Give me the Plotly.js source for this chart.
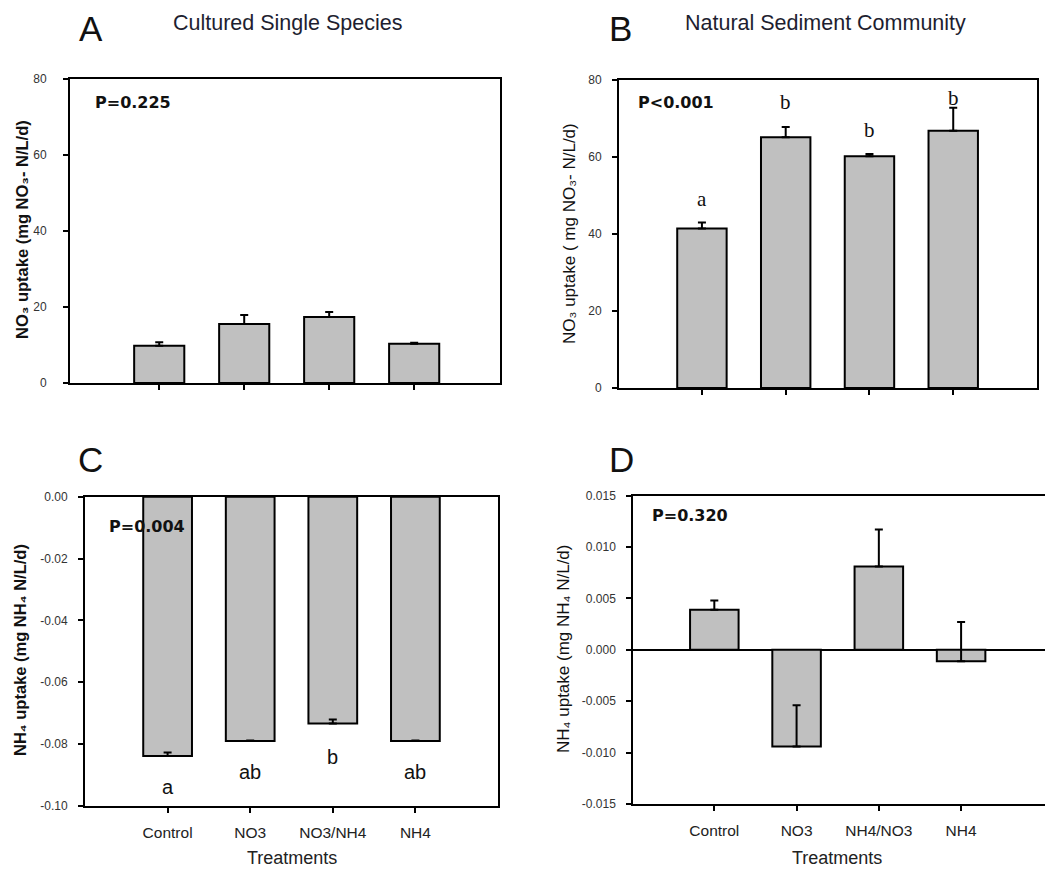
<!DOCTYPE html>
<html>
<head>
<meta charset="utf-8">
<script src="https://cdn.plot.ly/plotly-3.0.1.min.js"></script>
<style>html,body{margin:0;padding:0;background:#fff;}#chart{width:1045px;height:872px;}</style>
</head>
<body>
<div id="chart"></div>
<script>
// ---- data ----
const treatmentsC = ['Control', 'NO3', 'NO3/NH4', 'NH4'];
const treatmentsD = ['Control', 'NO3', 'NH4/NO3', 'NH4'];

// A: Cultured single species, NO3 uptake
const valuesA = [9.8, 15.5, 17.4, 10.3];
const errorsA = [0.9, 2.4, 1.3, 0.3];
// B: Natural sediment community, NO3 uptake
const valuesB = [41.4, 65.1, 60.2, 66.8];
const errorsB = [1.6, 2.7, 0.6, 6.0];
const lettersB = ['a', 'b', 'b', 'b'];
const letterYB = [49.0, 74.4, 67.0, 75.3];
// C: Cultured single species, NH4 uptake
const valuesC = [-0.0838, -0.0790, -0.0733, -0.0790];
const errorsC = [0.0011, 0.0002, 0.0013, 0.0002];
const lettersC = ['a', 'ab', 'b', 'ab'];
const letterYC = [-0.0940, -0.0889, -0.0843, -0.0889];
// D: Natural sediment community, NH4 uptake
const valuesD = [0.0039, -0.0094, 0.0081, -0.0011];
const errorsD = [0.0009, 0.0040, 0.0036, 0.0038];

const tickValsA = [0, 20, 40, 60, 80];
const tickTextA = ['0', '20', '40', '60', '80'];
const tickValsC = [0, -0.02, -0.04, -0.06, -0.08, -0.10];
const tickTextC = ['0.00', '-0.02', '-0.04', '-0.06', '-0.08', '-0.10'];
const tickValsD = [0.015, 0.010, 0.005, 0, -0.005, -0.010, -0.015];
const tickTextD = ['0.015', '0.010', '0.005', '0.000', '-0.005', '-0.010', '-0.015'];

const pValues = ['P=0.225', 'P<0.001', 'P=0.004', 'P=0.320'];
const panelLetters = ['A', 'B', 'C', 'D'];
const panelTitles = ['Cultured Single Species', 'Natural Sediment Community'];
const yTitles = ['NO\u2083 uptake (mg NO\u2083- N/L/d)', 'NO\u2083 uptake ( mg NO\u2083- N/L/d)',
                 'NH\u2084 uptake (mg NH\u2084 N/L/d)', 'NH\u2084 uptake (mg NH\u2084 N/L/d)'];
const xTitle = 'Treatments';

// ---- drawing ----
const W = 1045, H = 872;
const px = x => x / W;
const py = y => 1 - y / H;
const idx = treatmentsC.map((_, i) => i);

function barTrace(vals, errs, xa, ya) {
  return {
    type: 'bar', x: idx, y: vals, xaxis: xa, yaxis: ya, width: 0.59,
    marker: {color: '#c0c0c0', line: {color: '#000', width: 2}},
    error_y: {type: 'data', symmetric: false, array: errs, arrayminus: errs.map(() => 0),
              color: '#000', thickness: 2, width: 4},
    showlegend: false, hoverinfo: 'y'
  };
}

const data = [
  barTrace(valuesA, errorsA, 'x', 'y'),
  barTrace(valuesB, errorsB, 'x2', 'y2'),
  barTrace(valuesC, errorsC, 'x3', 'y3'),
  barTrace(valuesD, errorsD, 'x4', 'y4')
];

const tickFont = {family: 'Liberation Sans, Arial, sans-serif', size: 12, color: '#333'};
function xAxis(domain, range, anchor, labels) {
  const ax = {
    domain: domain, range: range, anchor: anchor, showgrid: false, zeroline: false,
    showline: true, linecolor: '#000', linewidth: 2, mirror: true,
    ticks: 'outside', ticklen: 5, tickwidth: 2, tickcolor: '#000',
    tickmode: 'array', tickvals: idx, showticklabels: !!labels,
    tickfont: {family: 'Liberation Sans, Arial, sans-serif', size: 15.5, color: '#222'},
    ticklabelstandoff: 6
  };
  if (labels) ax.ticktext = labels;
  return ax;
}
function yAxis(domain, range, anchor, tv, tt, standoff, zl) {
  return {
    domain: domain, range: range, anchor: anchor, showgrid: false, zeroline: !!zl,
    zerolinecolor: '#000', zerolinewidth: 2,
    showline: true, linecolor: '#000', linewidth: 2, mirror: true,
    ticks: 'outside', ticklen: 5, tickwidth: 2, tickcolor: '#000',
    tickmode: 'array', tickvals: tv, ticktext: tt, tickfont: tickFont, ticklabelstandoff: standoff
  };
}

const layout = {
  width: W, height: H, margin: {l: 0, r: 0, t: 0, b: 0},
  paper_bgcolor: '#fff', plot_bgcolor: '#fff', bargap: 0,
  font: {family: 'Liberation Sans, Arial, sans-serif', color: '#222'},
  xaxis:  xAxis([px(70), px(500)], [-1.05, 4.01], 'y'),
  yaxis:  yAxis([py(383), py(79)], [0, 80], 'x', tickValsA, tickTextA, 14),
  xaxis2: xAxis([px(619), px(1037)], [-0.99, 4.0], 'y2'),
  yaxis2: yAxis([py(388), py(80)], [0, 80], 'x2', tickValsA, tickTextA, 8),
  xaxis3: xAxis([px(85), px(498)], [-1.0, 4.0], 'y3', treatmentsC),
  yaxis3: yAxis([py(806), py(496.7)], [-0.10, 0], 'x3', tickValsC, tickTextC, 8),
  xaxis4: xAxis([px(633.3), 1.0], [-0.985, 4.02], 'y4', treatmentsD),
  yaxis4: yAxis([py(804), py(495.7)], [-0.015, 0.015], 'x4', tickValsD, tickTextD, 8, true),
  annotations: []
};

const ann = layout.annotations;
function paperText(text, x, y, font, extra) {
  ann.push(Object.assign({text: text, x: px(x), y: py(y), xref: 'paper', yref: 'paper',
    showarrow: false, xanchor: 'center', yanchor: 'middle', font: font}, extra || {}));
}
const labFont = {family: 'Liberation Sans, Arial, sans-serif', size: 35, color: '#111'};
paperText(panelLetters[0], 91, 29, labFont);
paperText(panelLetters[1], 620, 29, labFont);
paperText(panelLetters[2], 90, 459, labFont);
paperText(panelLetters[3], 621, 459, labFont);

const titleFont = {family: 'Liberation Sans, Arial, sans-serif', size: 21.5, color: '#1e1e30'};
paperText(panelTitles[0], 287, 23, titleFont);
paperText(panelTitles[1], 825, 23, titleFont);

const pFont = {family: 'DejaVu Sans, Verdana, sans-serif', size: 16, color: '#111'};
paperText('<b>' + pValues[0] + '</b>', 93, 102, pFont, {xanchor: 'left'});
paperText('<b>' + pValues[1] + '</b>', 636, 102, pFont, {xanchor: 'left'});
paperText('<b>' + pValues[2] + '</b>', 107, 526, pFont, {xanchor: 'left'});
paperText('<b>' + pValues[3] + '</b>', 650, 515, pFont, {xanchor: 'left'});

const yTitleBold = {family: 'Liberation Sans, DejaVu Sans, Arial, sans-serif', size: 16.5, color: '#111'};
const yTitleReg = {family: 'Liberation Sans, DejaVu Sans, Arial, sans-serif', size: 17, color: '#111'};
paperText('<b>' + yTitles[0] + '</b>', 22, 230, yTitleBold, {textangle: -90});
paperText(yTitles[1], 569, 234, yTitleReg, {textangle: -90});
paperText('<b>' + yTitles[2] + '</b>', 20, 650, yTitleBold, {textangle: -90});
paperText(yTitles[3], 563, 649, yTitleReg, {textangle: -90});

const xTitleFont = {family: 'Liberation Sans, Arial, sans-serif', size: 18, color: '#222'};
paperText(xTitle, 291.5, 858, xTitleFont);
paperText(xTitle, 837, 858, xTitleFont);

// significance letters
lettersB.forEach((t, i) => ann.push({text: t, x: idx[i], y: letterYB[i], xref: 'x2', yref: 'y2',
  showarrow: false, xanchor: 'center', yanchor: 'middle',
  font: {family: 'Liberation Serif, Times New Roman, serif', size: 21, color: '#111'}}));
lettersC.forEach((t, i) => ann.push({text: t, x: idx[i], y: letterYC[i], xref: 'x3', yref: 'y3',
  showarrow: false, xanchor: 'center', yanchor: 'middle',
  font: {family: 'Liberation Sans, Arial, sans-serif', size: 20, color: '#111'}}));

Plotly.newPlot('chart', data, layout, {staticPlot: true, displayModeBar: false});
</script>
</body>
</html>
